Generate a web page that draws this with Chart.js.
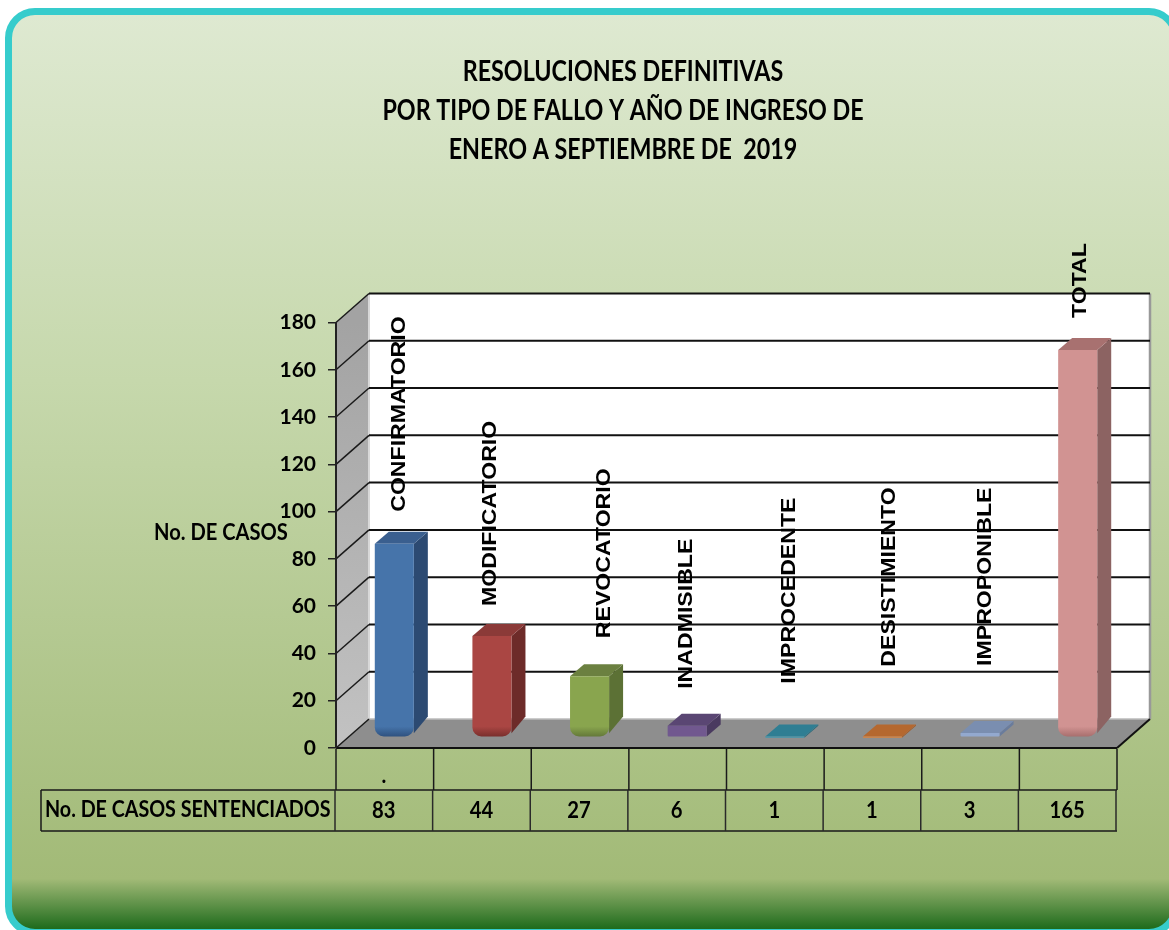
<!DOCTYPE html>
<html>
<head>
<meta charset="utf-8">
<title>Resoluciones definitivas</title>
<script src="https://cdn.jsdelivr.net/npm/chart.js@4/dist/chart.umd.min.js"></script>
<style>
  html, body { margin: 0; padding: 0; background: #fff; overflow: hidden; }
  #page { position: relative; width: 1169px; height: 930px; overflow: hidden; }
  #frame {
    position: absolute; left: 5px; top: 8px; width: 1160px; height: 914px;
    border: 7px solid #36CCCC; border-radius: 30px;
    background: linear-gradient(to bottom, #DEE9D1 0%, #C6D8AC 40%, #A2BA77 94.5%, #1E6B1C 100%);
  }
  canvas { position: absolute; left: 0; top: 0; }
</style>
</head>
<body>
<div id="page">
  <div id="frame"></div>
  <canvas id="chart" width="1169" height="930"></canvas>
</div>
<script>
// data
const categories = ['CONFIRMATORIO', 'MODIFICATORIO', 'REVOCATORIO', 'INADMISIBLE', 'IMPROCEDENTE', 'DESISTIMIENTO', 'IMPROPONIBLE', 'TOTAL'];
const casos = [83, 44, 27, 6, 1, 1, 3, 165];
const yTicks = [0, 20, 40, 60, 80, 100, 120, 140, 160, 180];
const titleLines = ['RESOLUCIONES DEFINITIVAS', 'POR TIPO DE FALLO Y AÑO DE INGRESO DE', 'ENERO A SEPTIEMBRE DE  2019'];
const yAxisLabel = 'No. DE CASOS';
const rowLabel = 'No. DE CASOS SENTENCIADOS';
const firstRow = ['.', '', '', '', '', '', '', ''];

// bar colours: front, top, side
const frontColors = ['#4674AA', '#AA4643', '#89A54E', '#71588F', '#4198AF', '#DB843D', '#93A9CF', '#D19392'];
const topColors = ['#3A5F8F', '#8B3A38', '#6B8040', '#5A4673', '#2F7E93', '#B5682F', '#7A8EB0', '#A87170'];
const sideColors = ['#2C4A72', '#6D2B29', '#5C7135', '#4A3A60', '#2A6B7C', '#A35C28', '#6A7C9C', '#8C6362'];
const shadeColors = ['#2F5280', '#7A2F2D', '#64793A', '#71588F', '#4198AF', '#DB843D', '#93A9CF', '#A86F6E'];

// hand placed rotated labels, same as in the original sheet
const labelShift = [14, 8, 24, 9, 14, 16, 15, 12];
const labelLift = [40, 38, 46, 45, 62, 79, 75, 40];

const WALL_DX = 33, WALL_DY = -29;   // back wall offset from the front axis
const BAR_DX = 9.5, BAR_DY = -8;     // bars stand a bit inside the floor
const DEPTH_X = 14, DEPTH_Y = -12;   // depth of each bar
const BAR_BASE = 1.5;
const ROW_H = 41;
const HEAD_LEFT = 41;
const BOLD_FONT = 'Lato';

function poly(ctx, pts, fill) {
  ctx.beginPath();
  pts.forEach((p, i) => i ? ctx.lineTo(p[0], p[1]) : ctx.moveTo(p[0], p[1]));
  ctx.closePath();
  ctx.fillStyle = fill;
  ctx.fill();
}

function line(ctx, x1, y1, x2, y2, color, width) {
  ctx.beginPath();
  ctx.moveTo(x1, y1);
  ctx.lineTo(x2, y2);
  ctx.strokeStyle = color;
  ctx.lineWidth = width;
  ctx.stroke();
}

// the original text is a stretched picture, so squeeze it along its length
function squeezed(ctx, text, x, y, sx, rot) {
  ctx.save();
  ctx.translate(x, y);
  if (rot) ctx.rotate(rot);
  ctx.scale(sx, 1);
  ctx.fillText(text, 0, 0);
  ctx.restore();
}

// walls, floor and grid lines of the 3D box
const box3d = {
  id: 'box3d',
  beforeDraw(chart) {
    const ctx = chart.ctx;
    const { left, right, top, bottom } = chart.chartArea;
    const y = chart.scales.y;
    ctx.save();
    poly(ctx, [[left + WALL_DX, top + WALL_DY], [right + WALL_DX, top + WALL_DY], [right + WALL_DX, bottom + WALL_DY], [left + WALL_DX, bottom + WALL_DY]], '#FFFFFF');
    const wall = ctx.createLinearGradient(0, top, 0, bottom);
    wall.addColorStop(0, '#A3A3A3');
    wall.addColorStop(1, '#C2C2C2');
    poly(ctx, [[left, top], [left + WALL_DX, top + WALL_DY], [left + WALL_DX, bottom + WALL_DY], [left, bottom]], wall);
    poly(ctx, [[left, bottom], [left + WALL_DX, bottom + WALL_DY], [right + WALL_DX, bottom + WALL_DY], [right, bottom]], '#8E8E8E');
    line(ctx, right + WALL_DX, top + WALL_DY, right + WALL_DX, bottom + WALL_DY, '#999999', 2.5);
    line(ctx, left + WALL_DX, top + WALL_DY, left + WALL_DX, bottom + WALL_DY, '#D8D8D8', 2);
    line(ctx, left + WALL_DX, bottom + WALL_DY, right + WALL_DX, bottom + WALL_DY, '#BBBBBB', 1.5);
    yTicks.forEach(t => {
      const py = y.getPixelForValue(t);
      line(ctx, left, py, left + WALL_DX, py + WALL_DY, '#1A1A1A', 1.5);
      if (t > 0) line(ctx, left + WALL_DX, py + WALL_DY, right + WALL_DX, py + WALL_DY, '#111111', 2);
    });
    line(ctx, left, bottom, right, bottom, '#111111', 2);
    line(ctx, right, bottom, right + WALL_DX, bottom + WALL_DY, '#111111', 2);
    ctx.restore();
  },
  beforeDatasetDraw(chart, args) {
    const ctx = chart.ctx;
    ctx.save();
    ctx.translate(BAR_DX, BAR_DY);
    args.meta.data.forEach((bar, i) => {
      const hw = bar.width / 2;
      const l = bar.x - hw, r = bar.x + hw;
      const t = Math.min(bar.y, bar.base);
      const b = Math.max(bar.y, bar.base);
      const cut = casos[i] >= 20 ? 8 : 0;
      poly(ctx, [[r, t], [r + DEPTH_X, t + DEPTH_Y], [r + DEPTH_X, b + DEPTH_Y - cut], [r, b - cut * 0.4]], sideColors[i]);
      poly(ctx, [[l, t], [l + DEPTH_X, t + DEPTH_Y], [r + DEPTH_X, t + DEPTH_Y], [r, t]], topColors[i]);
    });
  },
  afterDatasetDraw(chart) {
    chart.ctx.restore();
  },
  afterDatasetsDraw(chart) {
    const ctx = chart.ctx;
    const x = chart.scales.x, y = chart.scales.y;
    ctx.save();
    ctx.fillStyle = '#000';
    ctx.textBaseline = 'middle';
    ctx.font = 'bold 21px "Liberation Sans"';
    ctx.textAlign = 'left';
    categories.forEach((name, i) => {
      squeezed(ctx, name, x.getPixelForValue(i) + labelShift[i], y.getPixelForValue(casos[i]) - labelLift[i], 1.1, -Math.PI / 2);
    });
    ctx.restore();
  },
  afterDraw(chart) {
    const ctx = chart.ctx;
    const { left, right, bottom } = chart.chartArea;
    const x = chart.scales.x;
    const cell = (right - left) / categories.length;
    const y0 = bottom + 1, y1 = y0 + ROW_H, y2 = y1 + ROW_H;
    ctx.save();
    line(ctx, HEAD_LEFT, y1, right, y1, '#1A1A1A', 1.5);
    line(ctx, HEAD_LEFT, y2, right, y2, '#1A1A1A', 1.5);
    line(ctx, HEAD_LEFT, y1, HEAD_LEFT, y2, '#1A1A1A', 1.5);
    for (let i = 0; i <= categories.length; i++) {
      const px = left + i * cell;
      line(ctx, px, y0, px, y1, '#1A1A1A', 1.5);
      line(ctx, px - 1, y1, px - 1, y2, '#2A2A2A', 1.5);
    }
    ctx.fillStyle = '#000';
    ctx.textBaseline = 'middle';
    ctx.textAlign = 'center';
    ctx.font = 'bold 23px ' + BOLD_FONT;
    casos.forEach((v, i) => {
      squeezed(ctx, String(v), x.getPixelForValue(i) - 1, y1 + ROW_H / 2 + 0.5, 0.88);
      if (firstRow[i]) squeezed(ctx, firstRow[i], x.getPixelForValue(i) - 1, y0 + ROW_H / 2 + 6, 0.88);
    });
    ctx.textAlign = 'left';
    squeezed(ctx, rowLabel, 45, y1 + ROW_H / 2 - 1, 0.856);
    squeezed(ctx, yAxisLabel, 154, 533, 0.875);
    ctx.textAlign = 'center';
    ctx.font = 'bold 28px ' + BOLD_FONT;
    titleLines.forEach((t, i) => squeezed(ctx, t, 623, 72 + i * 39, 0.832));
    ctx.restore();
  }
};

new Chart(document.getElementById('chart'), {
  type: 'bar',
  plugins: [box3d],
  data: {
    labels: categories,
    datasets: [{
      data: casos,
      base: BAR_BASE,
      clip: false,
      barPercentage: 0.4,
      categoryPercentage: 1,
      borderSkipped: false,
      borderRadius: c => {
        const r = casos[c.dataIndex] >= 20 ? 9 : 1;
        return { topLeft: 0, topRight: 0, bottomLeft: r, bottomRight: r };
      },
      backgroundColor: c => {
        const i = c.dataIndex;
        if (casos[i] < 20) return frontColors[i];
        const b = c.chart.scales.y ? c.chart.scales.y.getPixelForValue(BAR_BASE) : NaN;
        if (!Number.isFinite(b)) return frontColors[i]; // scale not laid out yet
        const g = c.chart.ctx.createLinearGradient(0, b - 10, 0, b);
        g.addColorStop(0, frontColors[i]);
        g.addColorStop(1, shadeColors[i]);
        return g;
      }
    }]
  },
  options: {
    responsive: false,
    animation: false,
    devicePixelRatio: 1,
    layout: { padding: { left: 129, right: 52, top: 322.5, bottom: 182 } },
    plugins: {
      legend: { display: false },
      tooltip: { enabled: false },
      title: { display: false }
    },
    scales: {
      x: { display: false },
      y: {
        min: 0,
        max: 180,
        afterFit: s => { s.width = 207; },
        afterBuildTicks: s => { s.ticks = yTicks.map(v => ({ value: v })); },
        border: { display: true, color: '#222', width: 2 },
        grid: { drawOnChartArea: false, drawTicks: true, tickLength: 8, color: '#222', lineWidth: 1.5 },
        ticks: { color: '#000', padding: 12, font: { family: BOLD_FONT, size: 21, weight: 'bold' } }
      }
    }
  }
});
</script>
</body>
</html>
